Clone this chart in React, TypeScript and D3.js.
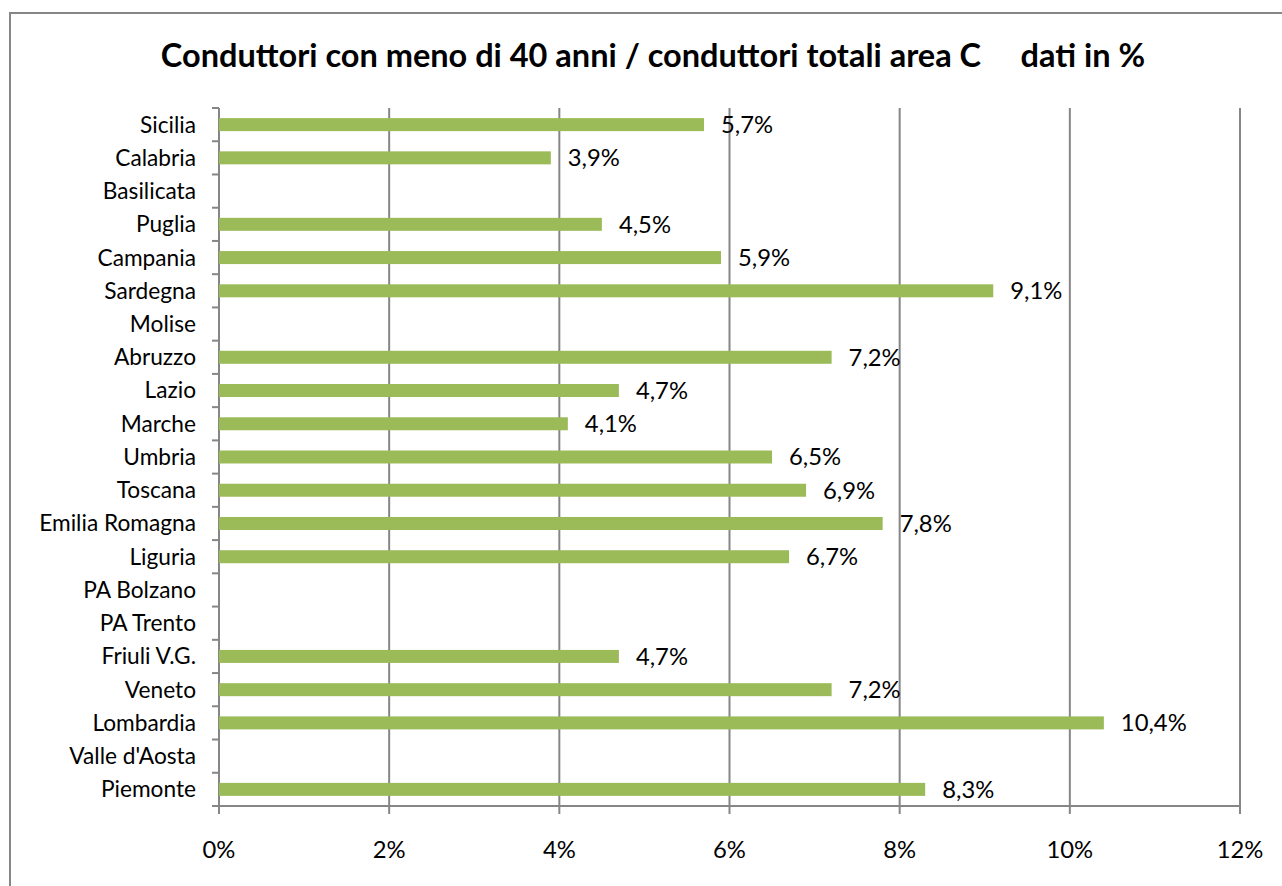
import React from "react";
import * as d3 from "d3";

const categories: string[] = [
  "Sicilia", "Calabria", "Basilicata", "Puglia", "Campania", "Sardegna", "Molise",
  "Abruzzo", "Lazio", "Marche", "Umbria", "Toscana", "Emilia Romagna", "Liguria",
  "PA Bolzano", "PA Trento", "Friuli V.G.", "Veneto", "Lombardia", "Valle d'Aosta", "Piemonte",
];
const values: (number | null)[] = [
  5.7, 3.9, null, 4.5, 5.9, 9.1, null,
  7.2, 4.7, 4.1, 6.5, 6.9, 7.8, 6.7,
  null, null, 4.7, 7.2, 10.4, null, 8.3,
];
const xTicks: number[] = [0, 2, 4, 6, 8, 10, 12];
const title = "Conduttori con meno di 40 anni / conduttori totali area C     dati in %";

const W = 1282, H = 886;
const left = 219, right = 1240, top = 108, bottom = 806;
const FONT = "Lato, 'Open Sans', sans-serif";
const GRID = "#868686";
const BAR = "#9BBB59";

export default function App() {
  const x = d3.scaleLinear().domain([0, 12]).range([left, right]);
  const band = d3.scaleBand<string>().domain(categories).range([top, bottom]).paddingInner(0).paddingOuter(0);
  const bw = band.bandwidth();
  const barH = 13;
  const fmt = (v: number) => v.toFixed(1).replace(".", ",") + "%";
  const boundaries = d3.range(categories.length + 1).map((i) => top + i * bw);

  return (
    <svg width={W} height={H} style={{ position: "absolute", left: 0, top: 0, display: "block" }} fontFamily={FONT}>
      <rect x={0} y={0} width={W} height={H} fill="#fff" />
      <rect x={10} y={13} width={1400} height={1000} fill="none" stroke={GRID} strokeWidth={2} />
      <text x={653} y={67} textAnchor="middle" fontSize={32.5} fontWeight="bold" fill="#000" style={{ whiteSpace: "pre" }}>
        {title}
      </text>
      {xTicks.map((t) => (
        <line key={"g" + t} x1={x(t)} x2={x(t)} y1={top} y2={bottom + 8} stroke={GRID} strokeWidth={2} />
      ))}
      <line x1={left - 7} x2={right} y1={bottom} y2={bottom} stroke={GRID} strokeWidth={2} />
      {boundaries.map((b, i) => (
        <line key={"yt" + i} x1={left - 7} x2={left} y1={b} y2={b} stroke={GRID} strokeWidth={2} />
      ))}
      {categories.map((c, i) => {
        const v = values[i];
        if (v == null) return null;
        const cy = (band(c) as number) + bw / 2;
        return (
          <g key={"b" + c}>
            <rect x={x(0)} y={cy - barH / 2} width={x(v) - x(0)} height={barH} fill={BAR} />
            <text x={x(v) + 17} y={cy} dy="0.35em" fontSize={23.8} fill="#000">
              {fmt(v)}
            </text>
          </g>
        );
      })}
      {categories.map((c) => (
        <text key={"l" + c} x={196} y={(band(c) as number) + bw / 2} dy="0.35em" textAnchor="end" fontSize={22.7} fill="#000">
          {c}
        </text>
      ))}
      {xTicks.map((t) => (
        <text key={"xl" + t} x={x(t)} y={858} textAnchor="middle" fontSize={23.8} fill="#000">
          {t + "%"}
        </text>
      ))}
    </svg>
  );
}
